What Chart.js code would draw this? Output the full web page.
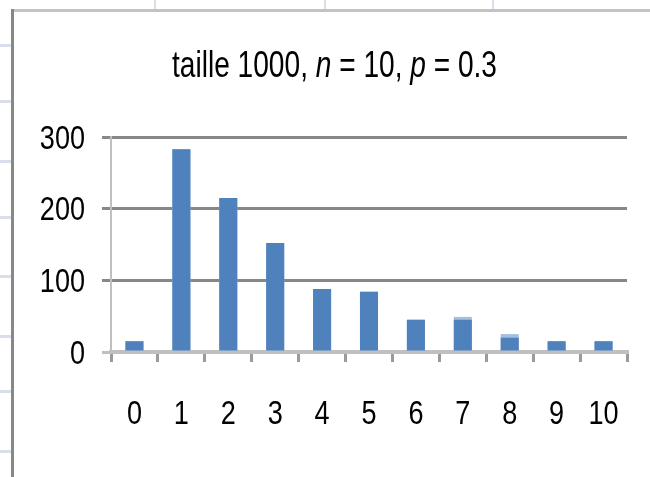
<!DOCTYPE html>
<html><head><meta charset="utf-8">
<script src="https://cdn.jsdelivr.net/npm/chart.js@4/dist/chart.umd.min.js"></script>
<style>
html,body{margin:0;padding:0;background:#fff;}
#wrap{position:relative;width:650px;height:477px;overflow:hidden;background:#fff;}
#c{position:absolute;left:0;top:0;}
.cell{position:absolute;background:#d9dfea;}
</style></head><body>
<div id="wrap">
<canvas id="c" width="650" height="477"></canvas>
<div class="cell" style="left:154px;top:0;width:2px;height:9px"></div>
<div class="cell" style="left:324px;top:0;width:2px;height:9px"></div>
<div class="cell" style="left:492px;top:0;width:2px;height:9px"></div>
<div class="cell" style="left:0;top:44px;width:11px;height:3px"></div>
<div class="cell" style="left:0;top:100px;width:11px;height:3px"></div>
<div class="cell" style="left:0;top:160px;width:11px;height:3px"></div>
<div class="cell" style="left:0;top:216px;width:11px;height:3px"></div>
<div class="cell" style="left:0;top:275px;width:11px;height:3px"></div>
<div class="cell" style="left:0;top:335px;width:11px;height:3px"></div>
<div class="cell" style="left:0;top:390px;width:11px;height:3px"></div>
<div class="cell" style="left:0;top:450px;width:11px;height:3px"></div>
<div style="position:absolute;left:11px;top:9px;width:639px;height:3px;background:#c3c3c3"></div>
<div style="position:absolute;left:11px;top:9px;width:3px;height:468px;background:#888"></div>
</div>
<script>
// ---- data ----
const categories = ['0','1','2','3','4','5','6','7','8','9','10'];
const effectifs = [15, 283, 215, 152, 88, 84, 45, 45, 20, 15, 15];
const effectifsArriere = [15, 283, 215, 152, 88, 84, 45, 49, 25, 15, 15];
const yTickValues = [0, 100, 200, 300];
const titleParts = [
  {text:'taille 1000, ', italic:false},
  {text:'n', italic:true},
  {text:' = 10, ', italic:false},
  {text:'p', italic:true},
  {text:' = 0.3', italic:false}
];

const FONT = "'Liberation Sans', Arial, sans-serif";
const LABEL_SIZE = 33;
const LABEL_SX = 0.82;

// draws text horizontally condensed (narrow face look)
function narrowText(ctx, text, x, y, align, size, sx){
  ctx.save();
  ctx.font = size + 'px ' + FONT;
  const w = ctx.measureText(text).width * sx;
  let left = x;
  if (align === 'center') left = x - w/2;
  else if (align === 'right') left = x - w;
  ctx.translate(left, y);
  ctx.scale(sx, 1);
  ctx.textAlign = 'left';
  ctx.textBaseline = 'alphabetic';
  ctx.fillStyle = '#000';
  ctx.fillText(text, 0, 0);
  ctx.restore();
}

const narrowLabels = {
  id:'narrowLabels',
  afterDraw(chart){
    const ctx = chart.ctx;
    const xs = chart.scales.x, ys = chart.scales.y;
    const half = 0.358 * LABEL_SIZE;
    ys.ticks.forEach(t => {
      narrowText(ctx, String(t.value), 85, ys.getPixelForValue(t.value) + half, 'right', LABEL_SIZE, LABEL_SX);
    });
    categories.forEach((c, i) => {
      narrowText(ctx, c, xs.getPixelForTick(i), 412.5 + half, 'center', LABEL_SIZE, LABEL_SX);
    });
  }
};

const richTitle = {
  id:'richTitle',
  afterDraw(chart){
    const ctx = chart.ctx;
    ctx.save();
    const size = 36;
    const fonts = titleParts.map(p => (p.italic ? 'italic ' : '') + size + 'px ' + FONT);
    let total = 0;
    titleParts.forEach((p,i) => { ctx.font = fonts[i]; total += ctx.measureText(p.text).width; });
    const targetW = 325;
    const sx = targetW / total;
    ctx.translate(334.5 - targetW/2, 77);
    ctx.scale(sx, 1);
    ctx.fillStyle = '#000';
    ctx.textBaseline = 'alphabetic';
    ctx.textAlign = 'left';
    let x = 0;
    titleParts.forEach((p,i) => { ctx.font = fonts[i]; ctx.fillText(p.text, x, 0); x += ctx.measureText(p.text).width; });
    ctx.restore();
  }
};

new Chart(document.getElementById('c'), {
  type:'bar',
  data:{
    labels: categories,
    datasets:[
      {label:'effectifs', data:effectifs, backgroundColor:'#4f81bd', order:0, grouped:false,
       barPercentage:0.385, categoryPercentage:1},
      {label:'arriere', data:effectifsArriere, backgroundColor:'#a7bfdf', order:1, grouped:false,
       barPercentage:0.385, categoryPercentage:1}
    ]
  },
  options:{
    responsive:false, animation:false, devicePixelRatio:1,
    layout:{padding:{top:137, right:23, left:0, bottom:0}},
    plugins:{legend:{display:false}, title:{display:false}, tooltip:{enabled:false}},
    scales:{
      x:{
        grid:{display:true, drawOnChartArea:false, drawTicks:true, tickLength:10, color:'#9a9a9a', lineWidth:3, offset:true},
        border:{display:true, color:'#c0c0c0', width:4},
        ticks:{display:false, autoSkip:false},
        afterFit(s){ s.height = 125; }
      },
      y:{
        min:0, max:300,
        afterBuildTicks(s){ s.ticks = yTickValues.map(v => ({value:v})); },
        ticks:{display:false},
        grid:{color:c => (c.tick && c.tick.value === 0) ? '#c0c0c0' : '#878787', lineWidth:3, tickLength:9, drawTicks:true},
        border:{display:true, color:'#c0c0c0', width:2},
        afterFit(s){ s.width = 111; }
      }
    }
  },
  plugins:[richTitle, narrowLabels]
});
</script>
</body></html>
